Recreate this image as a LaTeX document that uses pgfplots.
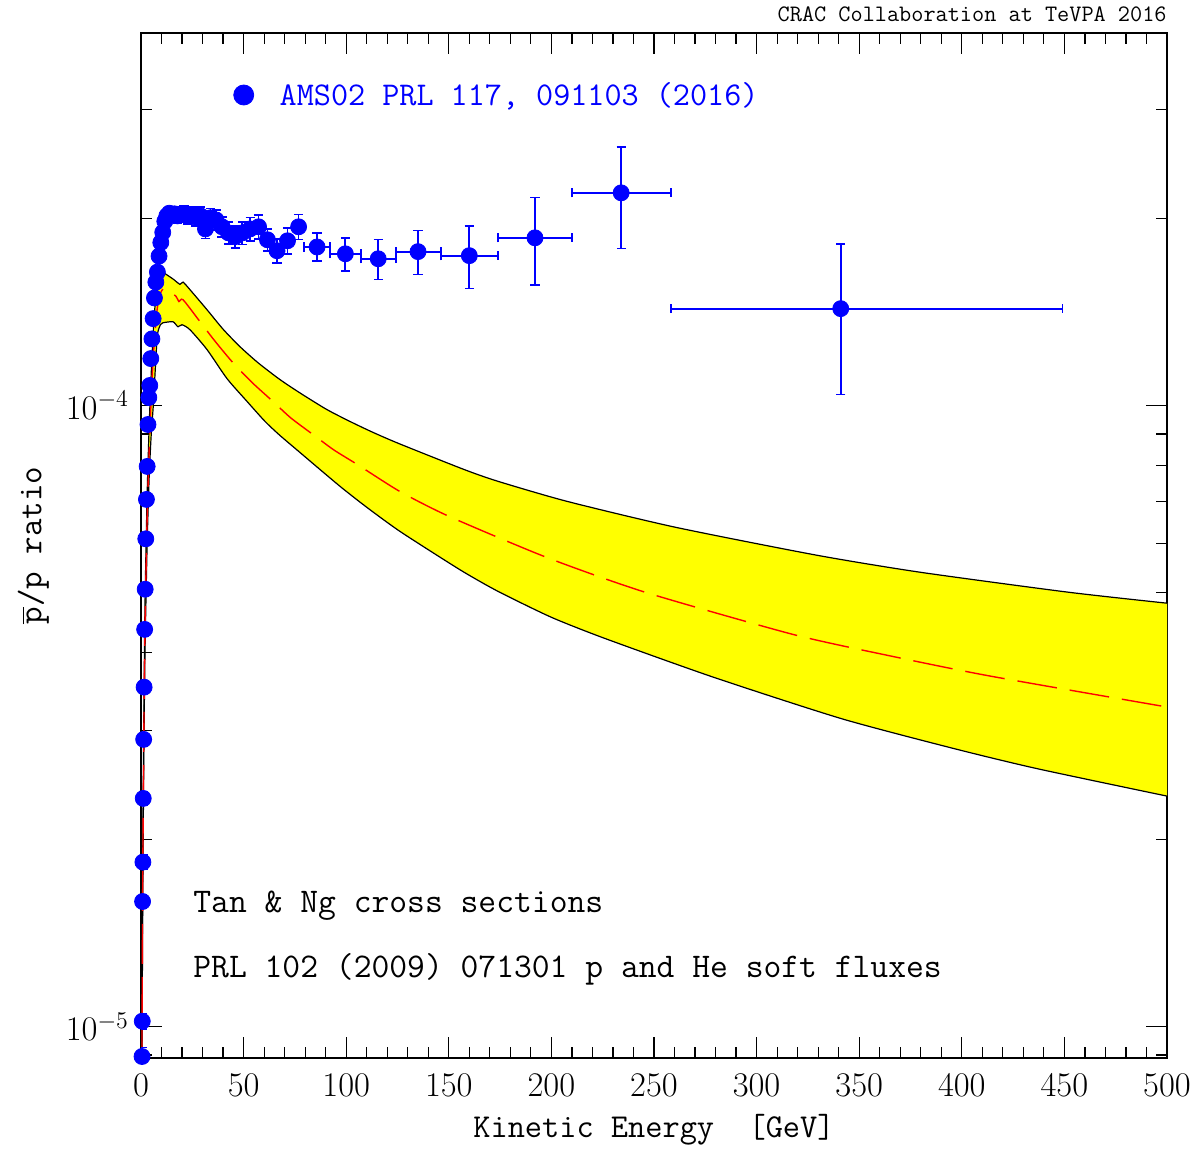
\documentclass[border=0pt]{standalone}
\usepackage{pgfplots}
\usepackage{pgfplotstable}
\pgfplotsset{compat=1.18}
\usepgfplotslibrary{fillbetween}
\definecolor{amsblue}{RGB}{0,0,255}
\definecolor{bandyellow}{RGB}{255,255,0}
\pgfplotstableread{
E v
0.3 7.5e-6
0.5 1.05e-5
0.8 1.7e-5
1.0 2.2e-5
1.5 3.5e-5
2.0 4.9e-5
3.0 7.2e-5
4.0 9.3e-5
5.0 1.13e-4
6.0 1.32e-4
7.0 1.47e-4
8.0 1.56e-4
9.5 1.62e-4
10.7 1.637e-4
13 1.62e-4
16 1.595e-4
19.0 1.567e-4
20.5 1.58e-4
23.9 1.536e-4
32.2 1.426e-4
40 1.327e-4
48.2 1.244e-4
57 1.172e-4
67.7 1.101e-4
78 1.045e-4
90.6 9.85e-5
102 9.42e-5
113.1 9.05e-5
126.2 8.67e-5
157.4 7.89e-5
174 7.55e-5
207.6 7.01e-5
260.2 6.37e-5
329.4 5.74e-5
379.6 5.39e-5
451.8 5.005e-5
500 4.805e-5
}\bandup
\pgfplotstableread{
E v
0.3 6.5e-6
0.5 9.0e-6
0.8 1.5e-5
1.0 1.9e-5
1.5 3.0e-5
2.0 4.1e-5
3.0 6.0e-5
4.0 7.7e-5
5.0 9.0e-5
6.0 1.0e-4
7.0 1.15e-4
8.0 1.30e-4
9.5 1.35e-4
10.7 1.359e-4
15.6 1.364e-4
18.0 1.339e-4
20.0 1.349e-4
23.9 1.324e-4
32.2 1.230e-4
41.9 1.105e-4
51.7 1.015e-4
60.4 9.43e-5
67.7 8.95e-5
77.5 8.40e-5
87.2 7.89e-5
97.0 7.41e-5
106.7 6.99e-5
116.5 6.61e-5
126.2 6.27e-5
141 5.83e-5
157.4 5.39e-5
174 5.02e-5
200 4.56e-5
226.6 4.21e-5
279.2 3.65e-5
341.6 3.13e-5
396.7 2.80e-5
437.1 2.60e-5
500 2.35e-5
}\bandlo
\pgfplotstableread{
E v
0.3 7e-6
0.5 9.8e-6
0.8 1.6e-5
1.0 2.05e-5
1.5 3.25e-5
2.0 4.5e-5
3.0 6.6e-5
4.0 8.5e-5
5.0 1.03e-4
6.0 1.2e-4
7.0 1.33e-4
8.0 1.44e-4
9.3 1.51e-4
10.7 1.54e-4
13 1.53e-4
17.0 1.50e-4
18.5 1.47e-4
20.5 1.48e-4
28.8 1.364e-4
36 1.27e-4
44.8 1.172e-4
54 1.09e-4
64.3 1.015e-4
73 9.55e-5
83.8 8.98e-5
94 8.48e-5
105.3 8.04e-5
126.2 7.27e-5
150.1 6.63e-5
197.9 5.69e-5
245.6 5.005e-5
317.7 4.28e-5
365.5 3.95e-5
413.3 3.67e-5
500 3.27e-5
}\bandmid
\begin{document}
\begin{tikzpicture}
\begin{axis}[
  scale only axis, width=513pt, height=512.5pt,
  xmin=0, xmax=500, ymode=log, ymin=8.9e-6, ymax=3.98e-4,
  clip mode=individual,
  axis line style={line width=1pt},
  tick style={line width=0.6pt, black},
  major tick length=10.5pt, minor tick length=5.5pt,
  tick align=inside,
  xtick={0,50,...,500}, minor x tick num=4,
  ytick={1e-5,1e-4}, yticklabels={$10^{-5}$,$10^{-4}$},
  minor ytick={9e-6,2e-5,3e-5,4e-5,5e-5,6e-5,7e-5,8e-5,9e-5,2e-4,3e-4},
  xticklabel style={font=\fontsize{17.3}{20}\selectfont, yshift=-4.5pt},
  yticklabel style={font=\fontsize{18.8}{22}\selectfont, xshift=-2.5pt},
  xlabel={Kinetic Energy\ \ [GeV]},
  xlabel style={font=\ttfamily\fontsize{16.7}{20}\selectfont, at={(axis description cs:0.5,-0.0702)}, anchor=center},
  ylabel={$\overline{\hbox{p}}$/p ratio},
  ylabel style={font=\ttfamily\fontsize{17}{20}\selectfont, at={(axis description cs:-0.105,0.5)}, anchor=center},
  title={CRAC Collaboration at TeVPA 2016},
  title style={font=\ttfamily\fontsize{11.8}{14}\selectfont, at={(axis description cs:1,1)}, anchor=base east, inner sep=0pt, yshift=-0.5pt},
  legend style={at={(axis description cs:0.090,0.9395)}, anchor=west, draw=none, fill=none,
    font=\ttfamily\fontsize{16.6}{20}\selectfont, text=amsblue, inner sep=0pt,
    /tikz/every odd column/.append style={column sep=11pt}},
  legend image post style={mark size=5pt},
]
% band edges
\addplot[name path=up, draw=none, forget plot, smooth, tension=0.4] table[x=E, y=v] {\bandup};
\addplot[name path=lo, draw=none, forget plot, smooth, tension=0.4] table[x=E, y=v] {\bandlo};
\addplot[bandyellow, forget plot] fill between[of=up and lo];
\addplot[black, line width=0.6pt, forget plot, smooth, tension=0.4] table[x=E, y=v] {\bandup};
\addplot[black, line width=0.6pt, forget plot, smooth, tension=0.4] table[x=E, y=v] {\bandlo};
% central model
\addplot[red, line width=0.7pt, dash pattern=on 20pt off 6.5pt, forget plot, smooth, tension=0.4] table[x=E, y=v] {\bandmid};
% AMS-02 data
\addplot[amsblue, only marks, mark=*, mark size=4pt, mark options={fill=amsblue, draw=amsblue},
  error bars/.cd, x dir=both, x explicit, y dir=both, y explicit,
  error bar style={line width=0.9pt, amsblue},
  error mark options={rotate=90, mark size=2.3pt, line width=0.9pt, amsblue}]
  table[x=x, y=y, x error minus=xm, x error plus=xp, y error=ey] {
x y xm xp ey
0.49 8.95e-6 0.057 0.064 0.3e-6
0.62 1.02e-5 0.066 0.069 0.3e-6
0.76 1.59e-5 0.071 0.08 0.4e-6
0.93 1.84e-5 0.09 0.082 0.5e-6
1.10 2.33e-5 0.088 0.099 0.6e-6
1.30 2.90e-5 0.101 0.108 0.7e-6
1.52 3.52e-5 0.112 0.119 0.8e-6
1.77 4.36e-5 0.131 0.122 1.0e-6
2.03 5.06e-5 0.138 0.147 1.1e-6
2.33 6.10e-5 0.153 0.153 1.3e-6
2.65 7.06e-5 0.167 0.171 1.5e-6
3.00 7.98e-5 0.179 0.19 1.7e-6
3.39 9.32e-5 0.2 0.2 2.0e-6
3.81 1.03e-4 0.22 0.221 2.2e-6
4.27 1.077e-4 0.239 0.243 2.4e-6
4.78 1.19e-4 0.267 0.256 2.6e-6
5.32 1.28e-4 0.284 0.28 2.8e-6
5.91 1.38e-4 0.31 0.304 3.0e-6
6.55 1.49e-4 0.336 0.328 3.2e-6
7.24 1.58e-4 0.362 0.354 3.4e-6
7.98 1.64e-4 0.386 0.389 3.6e-6
8.79 1.74e-4 0.421 0.415 3.8e-6
9.65 1.83e-4 0.445 0.452 4.0e-6
10.6 1.90e-4 0.498 0.499 4.2e-6
11.6 1.98e-4 0.501 0.496 4.4e-6
12.6 2.02e-4 0.504 0.59 4.6e-6
13.8 2.04e-4 0.61 0.59 4.8e-6
15.0 2.03e-4 0.61 0.69 5e-6
16.4 2.035e-4 0.71 0.69 5.2e-6
17.8 2.02e-4 0.71 0.78 5.4e-6
19.4 2.03e-4 0.82 0.78 5.6e-6
21.0 2.035e-4 0.82 0.88 5.8e-6
22.8 2.02e-4 0.92 0.98 6e-6
24.8 2.03e-4 1.02 0.98 6.2e-6
26.8 2.01e-4 1.02 1.08 6.4e-6
29.0 2.02e-4 1.12 1.18 6.6e-6
31.4 1.925e-4 1.22 1.17 6.8e-6
33.9 2.006e-4 1.33 1.27 7e-6
36.6 1.99e-4 1.43 1.37 7.2e-6
39.5 1.94e-4 1.53 1.47 7.4e-6
42.6 1.897e-4 1.63 1.57 7.6e-6
45.9 1.87e-4 1.73 1.67 7.8e-6
49.4 1.897e-4 1.83 1.87 8e-6
53.2 1.925e-4 1.93 1.97 8.2e-6
57.3 1.94e-4 2.13 2.07 8.4e-6
61.6 1.849e-4 2.23 2.27 7.5e-6
66.3 1.775e-4 2.43 2.47 8e-6
71.4 1.842e-4 2.63 2.57 9e-6
76.8 1.94e-4 2.83 2.77 9e-6
85.8 1.80e-4 6.23 6.27 9.3e-6
99.6 1.755e-4 7.53 7.5 1.07e-5
115.6 1.723e-4 8.5 8.5 1.27e-5
135 1.769e-4 10.9 11.1 1.44e-5
160 1.743e-4 13.9 14.1 2.0e-5
192 1.862e-4 17.9 18.1 3.0e-5
234 2.20e-4 23.9 24.1 4.1e-5
341 1.432e-4 82.9 108.1 3.9e-5
};
\addlegendentry{AMS02 PRL 117, 091103 (2016)}
\node[anchor=base west, inner sep=0pt, font=\ttfamily\fontsize{17.3}{20}\selectfont] at (axis description cs:0.0507,0.1415) {Tan \& Ng cross sections};
\node[anchor=base west, inner sep=0pt, font=\ttfamily\fontsize{17.3}{20}\selectfont] at (axis description cs:0.0507,0.079) {PRL 102 (2009) 071301 p and He soft fluxes};
\end{axis}
\path ([shift={(-70.5pt,-46.5pt)}]current axis.south west) rectangle ([shift={(17.5pt,16.5pt)}]current axis.north east);
\end{tikzpicture}
\end{document}
